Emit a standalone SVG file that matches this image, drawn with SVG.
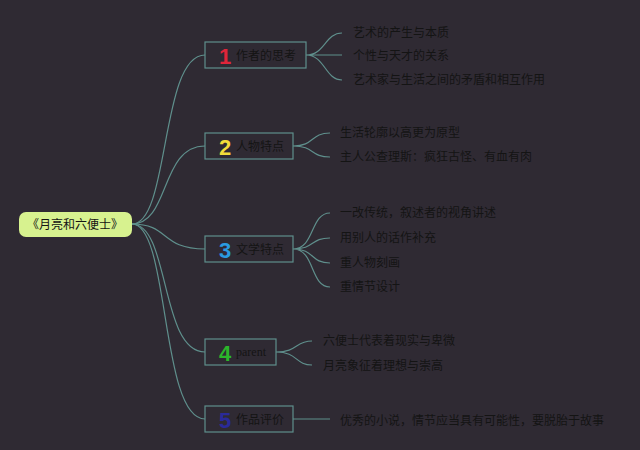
<svg xmlns="http://www.w3.org/2000/svg" width="640" height="450" viewBox="0 0 640 450">
<style>
.c{fill:none;stroke:#5f8f8c;stroke-width:1.2}
.b{fill:#2f2a33;stroke:#5f8f8c;stroke-width:1.2}
.t{font-family:"Noto Sans CJK SC","Noto Sans",sans-serif;font-size:12px;fill:#141414}
.n{font-family:"Liberation Sans",sans-serif;font-size:22px;font-weight:bold}
</style>
<rect width="640" height="450" fill="#2f2a33"/>
<g id="connectors">
<path class="c" d="M132,224 C170,224 160,55 205,55"/>
<path class="c" d="M132,224 C170,224 160,146 205,146"/>
<path class="c" d="M132,224 C170,224 160,249 205,249"/>
<path class="c" d="M132,224 C170,224 160,352 205,352"/>
<path class="c" d="M132,224 C170,224 160,419 205,419"/>
<path class="c" d="M306,55 C325,55 325,33 342,33 M306,55 L342,55 M306,55 C325,55 325,80 342,80"/>
<path class="c" d="M293,146 C315,146 310,133 330,133 M293,146 C315,146 310,157 330,157"/>
<path class="c" d="M293,249 C315,249 310,213 330,213 M293,249 C315,249 310,238 330,238 M293,249 C315,249 310,263 330,263 M293,249 C315,249 310,287 330,287"/>
<path class="c" d="M276,352 C298,352 295,341 312,341 M276,352 C298,352 295,365 312,365"/>
<path class="c" d="M293,419 L330,419"/>
</g>
<g id="root"><rect x="19" y="212" width="113" height="25" rx="7" fill="#d7f28f"/><text class="t" x="75" y="229" text-anchor="middle">《月亮和六便士》</text></g>
<g id="n1"><rect class="b" x="205" y="42" width="101" height="26"/><text class="n" x="219" y="64" fill="#e0253a">1</text><text class="t" x="236" y="60">作者的思考</text></g>
<g id="n2"><rect class="b" x="205" y="133" width="88" height="26"/><text class="n" x="219" y="155" fill="#f2dc3a">2</text><text class="t" x="236" y="151">人物特点</text></g>
<g id="n3"><rect class="b" x="205" y="236" width="88" height="26"/><text class="n" x="219" y="258" fill="#2a9be0">3</text><text class="t" x="236" y="254">文学特点</text></g>
<g id="n4"><rect class="b" x="205" y="339" width="71" height="26"/><text class="n" x="219" y="361" fill="#2bb52b">4</text><text class="t" x="236" y="356" style="font-family:'Liberation Serif',serif">parent</text></g>
<g id="n5"><rect class="b" x="205" y="406" width="88" height="26"/><text class="n" x="219" y="428" fill="#2a2a9a">5</text><text class="t" x="236" y="424">作品评价</text></g>
<g id="leaves">
<text class="t" x="353" y="37">艺术的产生与本质</text>
<text class="t" x="353" y="60">个性与天才的关系</text>
<text class="t" x="353" y="84">艺术家与生活之间的矛盾和相互作用</text>
<text class="t" x="340" y="137">生活轮廓以高更为原型</text>
<text class="t" x="340" y="161">主人公查理斯：疯狂古怪、有血有肉</text>
<text class="t" x="340" y="217">一改传统，叙述者的视角讲述</text>
<text class="t" x="340" y="242">用别人的话作补充</text>
<text class="t" x="340" y="267">重人物刻画</text>
<text class="t" x="340" y="291">重情节设计</text>
<text class="t" x="323" y="345">六便士代表着现实与卑微</text>
<text class="t" x="323" y="370">月亮象征着理想与崇高</text>
<text class="t" x="340" y="425">优秀的小说，情节应当具有可能性，要脱胎于故事</text>
</g>
</svg>
